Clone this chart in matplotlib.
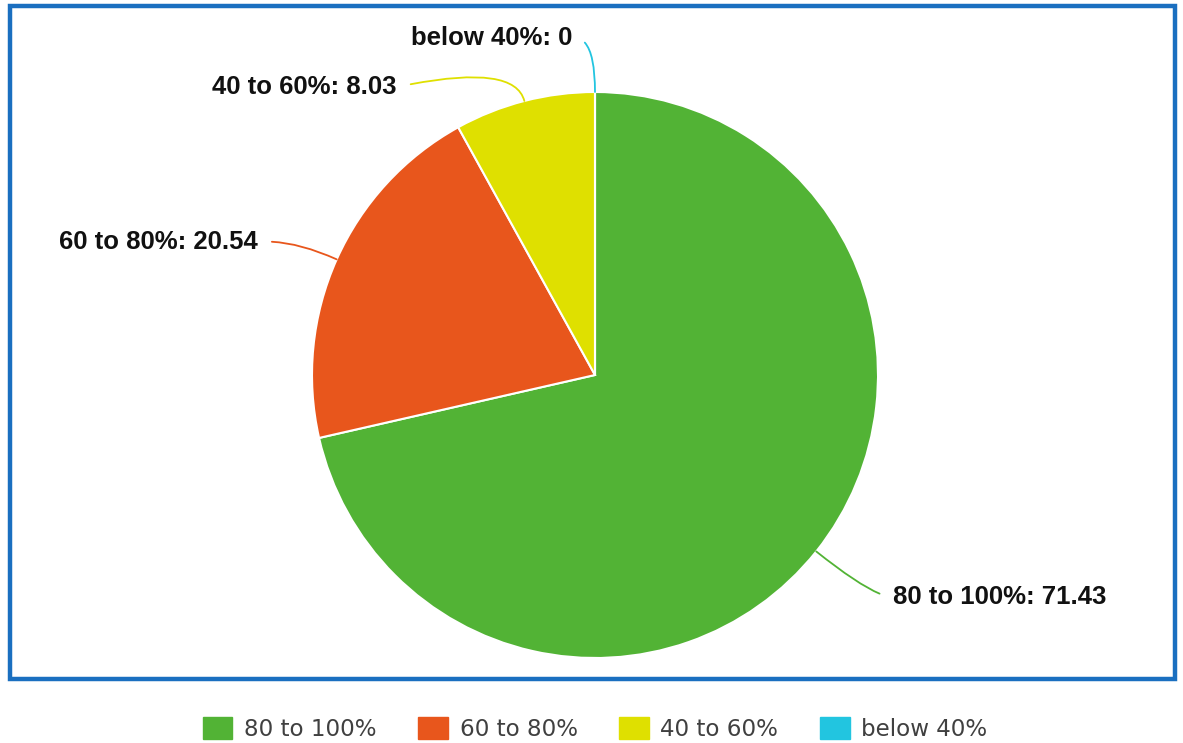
import matplotlib.pyplot as plt
import matplotlib.patches as mpatches
import numpy as np

labels = ['80 to 100%', '60 to 80%', '40 to 60%', 'below 40%']
values = [71.43, 20.54, 8.03, 0]
colors = ['#52b335', '#e8561c', '#dfe000', '#22c5e0']

W, H = 1183, 743
fig = plt.figure(figsize=(W / 100, H / 100), dpi=100)
ax = fig.add_axes([0, 0, 1, 1])

cx, cy, r = 595, H - 375, 283
wedges, _ = ax.pie(values, colors=colors, startangle=90, counterclock=False,
                   center=(cx, cy), radius=r,
                   wedgeprops=dict(edgecolor='white', linewidth=1.5))
ax.set_xlim(0, W)
ax.set_ylim(0, H)
ax.set_aspect('equal')
ax.axis('off')

# blue frame round the plot area
ax.add_patch(mpatches.Rectangle((10, H - 679), 1165, 673, fill=False,
                                edgecolor='#1a6fc0', linewidth=3.2))

# label placement (text anchor, alignment, leader start angle)
label_pos = [(893, H - 597, 'left', 0), (258, H - 242, 'right', 5),
             (397, H - 87, 'right', 12), (572, H - 38, 'right', 8)]

for w, lab, val, col, (tx, ty, ha, a0) in zip(wedges, labels, values, colors, label_pos):
    mid = np.deg2rad((w.theta1 + w.theta2) / 2)
    px, py = cx + r * np.cos(mid), cy + r * np.sin(mid)
    txt = f'{lab}: {val:g}'
    relx = 0 if ha == 'left' else 1
    ax.annotate(txt, xy=(px, py), xytext=(tx, ty), ha=ha, va='center',
                fontsize=18.5, fontweight='bold', family='Liberation Sans',
                color='#111111',
                arrowprops=dict(arrowstyle='-', color=col, lw=1.3,
                                shrinkA=8, shrinkB=0, relpos=(relx, 0.5),
                                connectionstyle=f'angle3,angleA={a0},angleB={np.rad2deg(mid):.1f}'))

handles = [mpatches.Patch(color=c) for c in colors]
fig.legend(handles, labels, loc='center', bbox_to_anchor=(595 / W, 1 - 729 / H),
           ncol=4, frameon=False, prop=dict(family='DejaVu Sans', size=16.6),
           labelcolor='#404040', handlelength=1.3, handleheight=1.05,
           handletextpad=0.5, columnspacing=1.8)

fig.savefig('out.png', dpi=100)
